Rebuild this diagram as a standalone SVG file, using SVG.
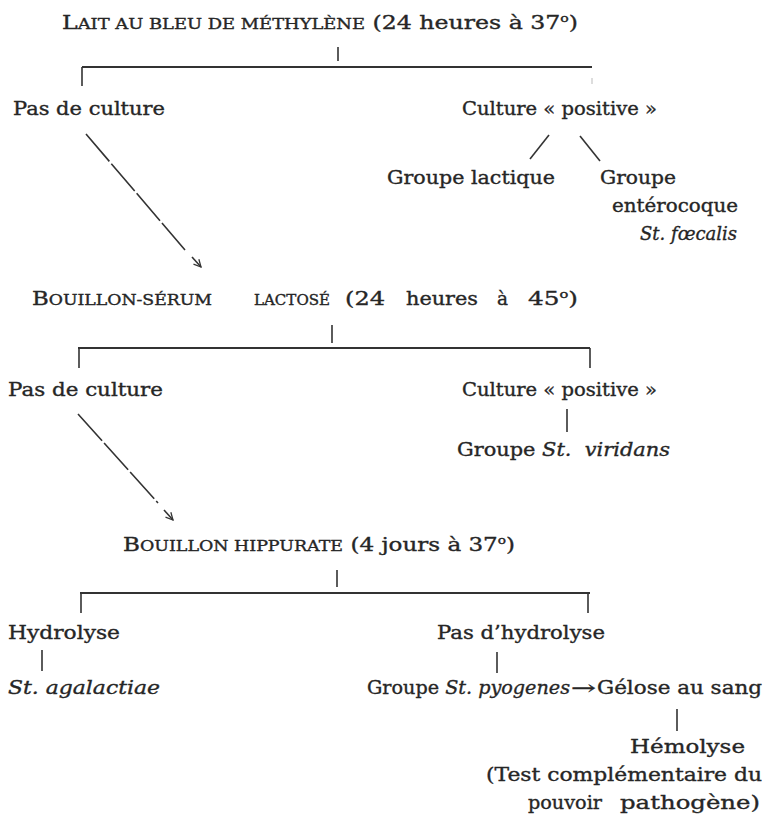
<svg xmlns="http://www.w3.org/2000/svg" width="768" height="814" viewBox="0 0 768 814">
<style>
  text { font-family: "DejaVu Serif", "Liberation Serif", serif; font-size: 18.5px; fill: #262626; stroke: #262626; stroke-width: 0.35; white-space: pre; }
  .it { font-style: italic; }
  .sc { font-size: 14px; }
  .sup { font-size: 11px; }
  .ln { stroke: #333; stroke-width: 2; fill: none; }
  .lt { stroke: #333; stroke-width: 1.6; fill: none; }
  .dash { stroke: #333; stroke-width: 1.6; fill: none; stroke-dasharray: 36 3; }
</style>
<defs>
  <marker id="ah" viewBox="0 0 10 10" refX="9" refY="5" markerWidth="9" markerHeight="9" orient="auto" markerUnits="userSpaceOnUse">
    <path d="M1,1 L9,5 L1,9" fill="none" stroke="#333" stroke-width="1.4"/>
  </marker>
</defs>
<rect width="768" height="814" fill="#ffffff"/>

<g id="connectors">
  <!-- section 1 -->
  <line class="lt" x1="338" y1="47" x2="338" y2="61"/>
  <line class="ln" x1="82" y1="67" x2="592" y2="67"/>
  <line class="lt" x1="82" y1="67" x2="82" y2="86"/>
  <line stroke="#bbb" stroke-width="1" x1="592" y1="78" x2="592" y2="84"/>
  <line class="lt" x1="549" y1="135" x2="530" y2="159"/>
  <line class="lt" x1="580" y1="136" x2="600" y2="161"/>
  <path class="dash" d="M86,134 L185,250"/>
  <path class="lt" d="M192,257 L201,267" marker-end="url(#ah)"/>
  <!-- section 2 -->
  <line class="lt" x1="332" y1="325" x2="332" y2="343"/>
  <line class="ln" x1="78" y1="348" x2="590" y2="348"/>
  <line class="lt" x1="79" y1="348" x2="79" y2="368"/>
  <line class="lt" x1="590" y1="348" x2="590" y2="368"/>
  <line class="lt" x1="567" y1="409" x2="567" y2="432"/>
  <path class="dash" d="M78,414 L158,503"/>
  <path class="lt" d="M164,510 L173,520" marker-end="url(#ah)"/>
  <!-- section 3 -->
  <line class="lt" x1="337" y1="570" x2="337" y2="587"/>
  <line class="ln" x1="80" y1="593" x2="590" y2="593"/>
  <line class="lt" x1="81" y1="593" x2="81" y2="613"/>
  <line class="lt" x1="588" y1="593" x2="588" y2="613"/>
  <line class="lt" x1="42" y1="650" x2="42" y2="671"/>
  <line class="lt" x1="497" y1="652" x2="497" y2="673"/>
  <line class="lt" x1="677" y1="709" x2="677" y2="731"/>
</g>

<g id="lait">
  <text x="62" y="29" textLength="516" lengthAdjust="spacingAndGlyphs">L<tspan class="sc">AIT AU BLEU DE MÉTHYLÈNE</tspan> (24 heures à 37<tspan class="sup" dy="-7">o</tspan><tspan dy="7">)</tspan></text>
</g>
<g id="pas-culture-1">
  <text x="13" y="115" textLength="152" lengthAdjust="spacingAndGlyphs">Pas de culture</text>
</g>
<g id="culture-positive-1">
  <text x="462" y="115" textLength="195" lengthAdjust="spacingAndGlyphs">Culture « positive »</text>
</g>
<g id="groupe-lactique">
  <text x="387" y="184" textLength="168" lengthAdjust="spacingAndGlyphs">Groupe lactique</text>
</g>
<g id="groupe-enterocoque">
  <text x="600" y="184" textLength="76" lengthAdjust="spacingAndGlyphs">Groupe</text>
  <text x="612" y="212" textLength="126" lengthAdjust="spacingAndGlyphs">entérocoque</text>
  <text class="it" x="640" y="240" textLength="97" lengthAdjust="spacingAndGlyphs">St. fœcalis</text>
</g>

<g id="bouillon-serum">
  <text x="32" y="305" textLength="180" lengthAdjust="spacingAndGlyphs">B<tspan class="sc">OUILLON-SÉRUM</tspan></text>
  <text x="254" y="305" textLength="76" lengthAdjust="spacingAndGlyphs"><tspan class="sc">LACTOSÉ</tspan></text>
  <text x="345" y="305" textLength="40" lengthAdjust="spacingAndGlyphs">(24</text>
  <text x="406" y="305" textLength="72" lengthAdjust="spacingAndGlyphs">heures</text>
  <text x="497" y="305" textLength="11" lengthAdjust="spacingAndGlyphs">à</text>
  <text x="528" y="305" textLength="50" lengthAdjust="spacingAndGlyphs">45<tspan class="sup" dy="-7">o</tspan><tspan dy="7">)</tspan></text>
</g>
<g id="pas-culture-2">
  <text x="8" y="396" textLength="155" lengthAdjust="spacingAndGlyphs">Pas de culture</text>
</g>
<g id="culture-positive-2">
  <text x="462" y="396" textLength="195" lengthAdjust="spacingAndGlyphs">Culture « positive »</text>
</g>
<g id="groupe-viridans">
  <text x="457" y="456" textLength="213" lengthAdjust="spacingAndGlyphs">Groupe <tspan class="it">St.  viridans</tspan></text>
</g>

<g id="bouillon-hippurate">
  <text x="123" y="551" textLength="392" lengthAdjust="spacingAndGlyphs">B<tspan class="sc">OUILLON HIPPURATE</tspan> (4 jours à 37<tspan class="sup" dy="-7">o</tspan><tspan dy="7">)</tspan></text>
</g>
<g id="hydrolyse">
  <text x="8" y="639" textLength="112" lengthAdjust="spacingAndGlyphs">Hydrolyse</text>
</g>
<g id="pas-hydrolyse">
  <text x="437" y="639" textLength="168" lengthAdjust="spacingAndGlyphs">Pas d’hydrolyse</text>
</g>
<g id="agalactiae">
  <text class="it" x="8" y="694" textLength="152" lengthAdjust="spacingAndGlyphs">St. agalactiae</text>
</g>
<g id="pyogenes-gelose">
  <text x="367" y="694" textLength="203" lengthAdjust="spacingAndGlyphs">Groupe <tspan class="it">St. pyogenes</tspan></text>
  <text x="571" y="694" textLength="25" lengthAdjust="spacingAndGlyphs">→</text>
  <text x="597" y="694" textLength="165" lengthAdjust="spacingAndGlyphs">Gélose au sang</text>
</g>
<g id="hemolyse">
  <text x="630" y="753" textLength="115" lengthAdjust="spacingAndGlyphs">Hémolyse</text>
  <text x="486" y="781" textLength="276" lengthAdjust="spacingAndGlyphs">(Test complémentaire du</text>
  <text x="528" y="809" textLength="74" lengthAdjust="spacingAndGlyphs">pouvoir</text>
  <text x="620" y="809" textLength="140" lengthAdjust="spacingAndGlyphs">pathogène)</text>
</g>
</svg>
